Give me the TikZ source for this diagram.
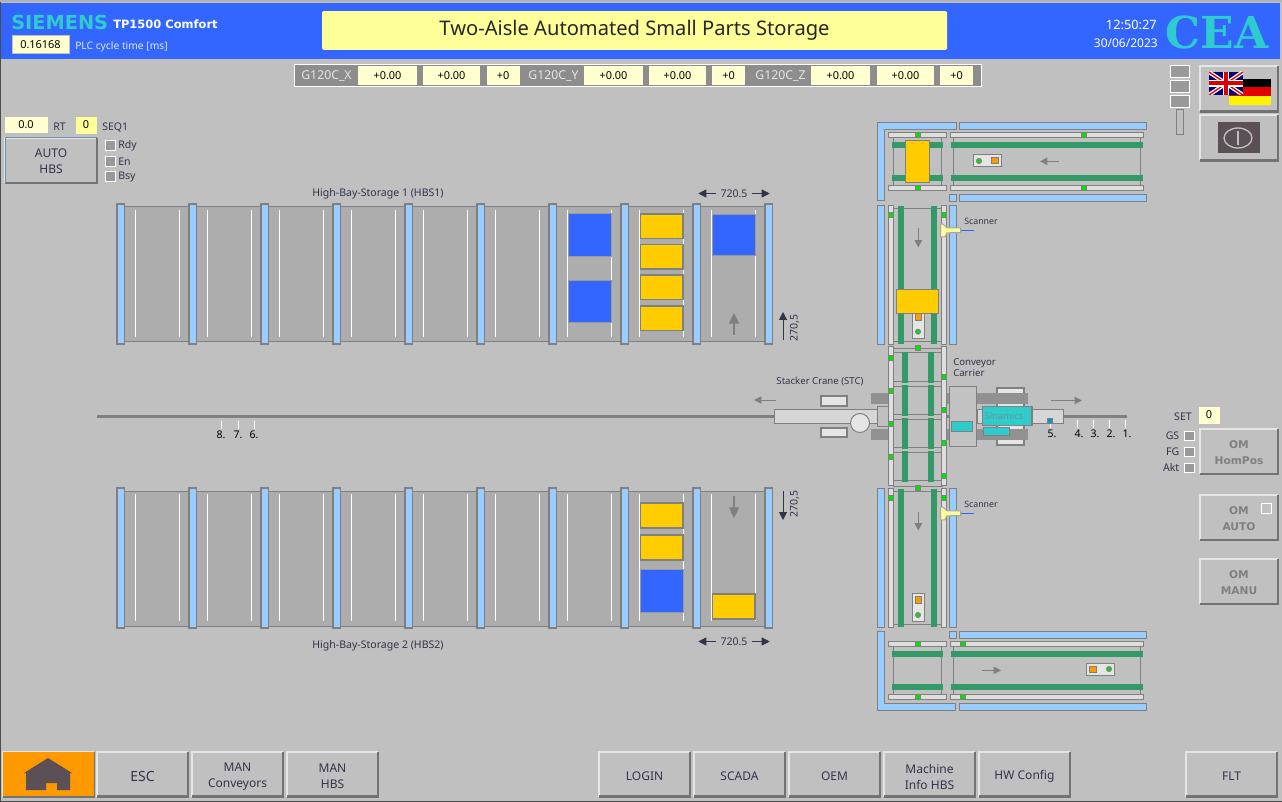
\documentclass[tikz,border=0pt]{standalone}
\usepackage{fontspec}
\setmainfont{Noto Sans}
\newfontfamily\ceafont{DejaVu Serif Bold}
\newfontfamily\heavysans{DejaVu Sans Bold}
\usetikzlibrary{arrows.meta, positioning}
\definecolor{panelgrey}{HTML}{C0C0C0}
\definecolor{headblue}{HTML}{3366FF}
\definecolor{brandteal}{HTML}{2ECCCC}
\definecolor{paleyellow}{HTML}{FFFFD0}
\definecolor{titleyellow}{HTML}{FFFF99}
\definecolor{edgegrey}{HTML}{808080}
\definecolor{barblue}{HTML}{99CCFF}
\definecolor{beltgreen}{HTML}{339966}
\definecolor{palletyellow}{HTML}{FFCC00}
\definecolor{signalorange}{HTML}{FF9900}
\definecolor{textdark}{HTML}{33334A}
\definecolor{darkmetal}{HTML}{5A5055}
\newcommand{\pxfont}[1]{\fontsize{#1}{12}\selectfont}
\tikzset{
    edged/.style={draw=edgegrey, line width=0.75pt},
    bluebar/.style={edged, line width=1pt, fill=barblue},
    railbar/.style={edged, fill=black!13},
    belt/.style={fill=beltgreen},
    sensor/.style={draw=edgegrey, line width=0.5pt, fill=green!90!black},
    carriage/.style={edged, line width=1pt, fill=black!12},
    pallety/.style={edged, line width=1pt, fill=palletyellow},
    palletb/.style={draw=black!40, line width=0.75pt, fill=headblue},
    lamp/.style={draw=white, line width=0.75pt, fill=black!40},
    slot/.style={draw=white, line width=0.75pt},
    flow/.style={edgegrey, line width=0.75pt, -{Triangle[width=5.5pt,length=5.5pt]}},
    flowbig/.style={edgegrey, line width=1.1pt, -{Triangle[width=7.5pt,length=8pt]}},
    measure/.style={textdark, line width=0.75pt, -{Triangle[width=6pt,length=6pt]}},
    textlabel/.style={inner sep=0pt, text=textdark, font=\pxfont{7.9}},
    valbox/.style={inner sep=0pt, fill=paleyellow, text=black, font=\pxfont{8.2}, draw=black!25, line width=0.5pt, minimum height=12.5pt},
    keycap/.style={align=center, text=textdark, font=\pxfont{9}, inner sep=0pt},
    keycaplow/.style={keycap, yshift=-1.2pt},
    keycapoff/.style={align=center, text=edgegrey, font=\heavysans\pxfont{8}, inner sep=0pt}
}
% raised button: name, corners, text style, caption
\newcommand{\raisedkey}[7]{
    \fill[panelgrey] (#2,#3) rectangle (#4,#5);
    \draw[black!10, line width=2pt] (#2+1,#5-1) -- (#2+1,#3+1) -- (#4-1,#3+1);
    \draw[black!55, line width=2pt] (#2+1,#5-1) -- (#4-1,#5-1) -- (#4-1,#3+1);
    \node[#6] (#1) at ({(#2+#4)/2},{(#3+#5)/2+0.7}) {#7};
}
% conveyor running sideways: rail span, frame inset, belt inset, top rail y, sensor x
\newcommand{\sideconveyor}[6]{
    \draw[edged] (#1+#3,#5) rectangle (#2-#3,#5+47.5);
    \fill[belt] (#1+#4,#5+4.3) rectangle (#2-#4,#5+10.3);
    \fill[belt] (#1+#4,#5+37.3) rectangle (#2-#4,#5+43.3);
    \draw[railbar] (#1,#5-5.5) rectangle (#2,#5);
    \draw[railbar] (#1,#5+47.5) rectangle (#2,#5+53);
    \draw[sensor] (#6-2.5,#5-5.2) rectangle ++(5,5);
    \draw[sensor] (#6-2.5,#5+47.8) rectangle ++(5,5);
}
\begin{document}
\begin{tikzpicture}[x=0.75pt, y=-0.75pt]
    \useasboundingbox (0,0) rectangle (1282,802);
    \fill[panelgrey] (0,0) rectangle (1282,802);

    % Header
    \fill[black!30] (0,0) rectangle (1282,2);
    \fill[headblue] (1,3) rectangle (1280,59);
    \draw[black!70, line width=0.75pt] (0.5,2) -- (0.5,801.5) -- (1282,801.5);
    \node[inner sep=0pt, anchor=west, text=brandteal, font=\heavysans\pxfont{14.5}] (brand) at (11,22.5) {SIEMENS};
    \node[inner sep=0pt, anchor=west, text=white, font=\heavysans\pxfont{8.6}] (model) at (113,24) {TP1500 Comfort};
    \node[valbox, minimum width=42.5pt, minimum height=13pt] (cycle) at (40.5,44.5) {0.16168};
    \node[inner sep=0pt, anchor=west, text=white!85!headblue, font=\pxfont{7.7}] (cyclelabel) at (75,47) {PLC cycle time [ms]};
    \node[fill=titleyellow, inner sep=0pt, minimum width=468.75pt, minimum height=29pt, rounded corners=1pt, font=\pxfont{15.1}, text=black!85] (title) at (634.5,30.5) {\raisebox{-2.5pt}{Two-Aisle Automated Small Parts Storage}};
    \node[inner sep=0pt, anchor=east, text=white, font=\pxfont{9.6}] (clock) at (1157,25) {12:50:27};
    \node[inner sep=0pt, anchor=east, text=white, font=\pxfont{9}] (date) at (1158,43.5) {30/06/2023};
    \node[inner sep=0pt, anchor=west, text=brandteal, font=\ceafont\pxfont{33}] (cea) at (1165.5,32) {CEA};

    % Drive values
    \fill[edgegrey!90] (294.5,64.5) rectangle (981,86.5);
    \draw[white, line width=0.75pt] (294.5,64.5) rectangle (981,86.5);
    \foreach \nm/\cx/\bw/\txt in {xa/387.5/59/+0.00, xb/451.5/57/+0.00, xc/503/33/+0, ya/613.5/59/+0.00, yb/677.5/57/+0.00, yc/728.5/33/+0, za/840.5/59/+0.00, zb/905.5/57/+0.00, zc/956.5/33/+0}
        \node[inner sep=0pt, fill=paleyellow, text=black, font=\pxfont{8.2}, minimum height=14.2pt, minimum width=\bw*0.75pt] (\nm) at (\cx,75.7) {\txt};
    \foreach \nm/\cx/\txt in {gx/326.5/G120C\_X, gy/553.5/G120C\_Y, gz/780.5/G120C\_Z}
        \node[inner sep=0pt, text=black!10, font=\pxfont{9.2}] (\nm) at (\cx,76.5) {\txt};

    % Left status block
    \node[valbox, minimum width=33pt] (rtval) at (26,125) {0.0};
    \node[textlabel, anchor=west] (rtlabel) at (53,127) {RT};
    \node[valbox, fill=titleyellow, minimum width=16.5pt, minimum height=13.5pt] (seqval) at (86,125) {0};
    \node[textlabel, anchor=west] (seqlabel) at (102,127.5) {SEQ1};
    \raisedkey{autohbs}{4}{137}{98}{184}{keycap}{AUTO\\HBS}
    \draw[barblue!70!black, line width=0.75pt] (5,183) -- (5,138) -- (97,138);
    \foreach \nm/\ty/\txt in {rdy/146/Rdy, ena/162/En, bsy/177/Bsy} {
        \draw[lamp] (105,\ty-5) rectangle ++(10,10);
        \node[textlabel, anchor=west] (\nm) at (118,\ty) {\txt};
    }

    % High-bay storage 1
    \draw[edged, fill=black!32] (123,207) rectangle (767,342);
    \foreach \x in {117,189,...,693} {
        \draw[slot] (\x+18,210) -- (\x+18,337);
        \draw[slot] (\x+62,210) -- (\x+62,337);
    }
    \foreach \x in {117,189,...,765}
        \draw[bluebar] (\x,204) rectangle ++(7.5,140);
    \draw[palletb] (568,214) rectangle (611,257);
    \draw[palletb] (568,281) rectangle (611,323);
    \draw[palletb] (712,215) rectangle (755,256);
    \foreach \ty in {214,244.5,275,306}
        \draw[pallety] (640.5,\ty) rectangle ++(42.5,24.5);
    \draw[flowbig] (734,335) -- (734,313);
    \node[textlabel] (hbsone) at (378,193.5) {High-Bay-Storage 1 (HBS1)};

    % High-bay storage 2
    \draw[edged, fill=black!32] (123,491) rectangle (767,626);
    \foreach \x in {117,189,...,693} {
        \draw[slot] (\x+18,494) -- (\x+18,621);
        \draw[slot] (\x+62,494) -- (\x+62,621);
    }
    \foreach \x in {117,189,...,765}
        \draw[bluebar] (\x,488) rectangle ++(7.5,140);
    \draw[pallety] (640.5,503) rectangle ++(42.5,25);
    \draw[pallety] (640.5,535) rectangle ++(42.5,25);
    \draw[palletb] (640.5,569) rectangle ++(42.5,43);
    \draw[pallety] (712.5,594) rectangle ++(42.5,25);
    \draw[flowbig] (734,496) -- (734,518);
    \node[textlabel] (hbstwo) at (378,645.5) {High-Bay-Storage 2 (HBS2)};

    % Dimensions
    \foreach \ty/\nm in {193.5/dimup, 641.5/dimdn} {
        \node[textlabel] (\nm) at (734,\ty) {720.5};
        \draw[measure] (\nm.west) ++(-4,0) -- ++(-18,0);
        \draw[measure] (\nm.east) ++(4,0) -- ++(18,0);
    }
    \node[textlabel, rotate=90] (hgtup) at (794.5,328) {270,5};
    \draw[measure] (783,340) -- (783,312);
    \node[textlabel, rotate=90] (hgtdn) at (794.5,504) {270,5};
    \draw[measure] (783,491) -- (783,520);

    % Rail with stations
    \draw[edgegrey, line width=2.2pt] (97,416.5) -- (1127,416.5);
    \foreach \x/\nm in {221/8, 238/7, 254/6} {
        \draw[white, line width=0.75pt] (\x,421) -- (\x,429);
        \node[textlabel, text=black] (st\nm) at (\x,435) {\nm.};
    }
    \foreach \x/\nm in {1077/4, 1093/3, 1109/2, 1125/1} {
        \draw[white, line width=0.75pt] (\x,420) -- (\x,428);
        \node[textlabel, text=black] (st\nm) at (\x+2,434) {\nm.};
    }

    % Stacker crane
    \draw[carriage, line width=0.75pt, fill=black!16] (774,409) rectangle (877,423);
    \draw[edged, line width=1.5pt, fill=black!10] (821,396) rectangle (847,406);
    \draw[edged, line width=1.5pt, fill=black!10] (821,427.5) rectangle (847,437);
    \draw[edged, fill=black!10] (860,423) circle (9.5);
    \draw[edged, fill=panelgrey] (877,406.5) rectangle (889,426.5);
    \draw[flow] (776,400) -- (754,400);
    \draw[flow] (1051,400.5) -- (1082,400.5);
    \node[textlabel, font=\pxfont{7.2}] (stc) at (820,381.5) {Stacker Crane (STC)};
    \draw[edged, line width=1.5pt, fill=black!10] (997,388) rectangle (1024,444.5);
    \fill[black!43] (871,392.5) rectangle (1027.5,403.5);
    \fill[black!43] (871,428.5) rectangle (1027.5,439.5);

    % Central conveyor
    \draw[edged, fill=panelgrey] (893,349) rectangle (942,486);
    \foreach \ty in {353,381,386,414,419,447,452,480}
        \draw[edged] (893,\ty) -- (942,\ty);
    \foreach \ty in {352,385,418,451} {
        \fill[belt] (902,\ty) rectangle (908,\ty+31);
        \fill[belt] (928,\ty) rectangle (934,\ty+31);
    }
    \draw[railbar] (888.7,347) rectangle (893.7,485.5);
    \draw[railbar] (941.7,347) rectangle (946.8,485.5);
    \foreach \ty in {358,391,424,457}
        \draw[sensor] (888.8,\ty-2.5) rectangle ++(5,5);
    \foreach \ty in {377,410,443,476}
        \draw[sensor] (941.8,\ty-2.5) rectangle ++(5,5);
    \draw[sensor] (915.5,345.3) rectangle ++(5,5);
    \draw[sensor] (915.5,485.5) rectangle ++(5,5);

    % Conveyor carrier
    \draw[edged, fill=black!16] (977,409.5) rectangle (1063.5,423.5);
    \draw[edged, line width=1pt, fill=black!24] (949.5,386.5) rectangle (976.5,446.5);
    \draw[edged, fill=brandteal] (951.5,421.5) rectangle (972.5,431.5);
    \draw[edged, line width=1pt, fill=brandteal] (982.5,406.5) rectangle (1032,425.5);
    \node[inner sep=0pt, text=edgegrey!75!brandteal, font=\pxfont{7}] (drive) at (1004,416.5) {Sinamics};
    \draw[edged, fill=brandteal] (983.5,427.5) rectangle (1009.5,435.5);
    \draw[edged, fill=cyan!80!blue] (1047.8,418.8) rectangle ++(5,5);
    \draw[white, line width=0.75pt] (1050,424) -- (1050,428);
    \node[textlabel, text=black] (st5) at (1052,434) {5.};
    \node[textlabel, anchor=west, align=left, font=\fontsize{7.2}{8.25}\selectfont] (carrier) at (953,367.5) {Conveyor\\Carrier};

    % Upper and lower vertical conveyors
    \foreach \ty/\nm in {205.5/up, 488.5/dn} {
        \draw[bluebar] (877.5,\ty) rectangle ++(7,139);
        \draw[bluebar] (949.5,\ty) rectangle ++(7,139);
        \draw[edged] (893,\ty+3) rectangle (942,\ty+136);
        \fill[belt] (898,\ty+0.5) rectangle (904,\ty+138.5);
        \fill[belt] (931,\ty+0.5) rectangle (937,\ty+138.5);
        \draw[railbar] (888.5,\ty) rectangle ++(5.2,139);
        \draw[railbar] (941.5,\ty) rectangle ++(5.2,139);
        \draw[sensor] (888.7,\ty+7) rectangle ++(5,5);
        \draw[sensor] (941.7,\ty+7) rectangle ++(5,5);
        \draw[flow] (918.3,\ty+23) -- (918.3,\ty+42);
    }
    % Scanners
    \foreach \ty/\nm in {230.3/scanup, 513.3/scandn} {
        \draw[headblue, line width=0.75pt] (961,\ty) -- (974,\ty);
        \draw[black!35, line width=0.75pt, fill=titleyellow] (940.5,\ty-6) -- (942.5,\ty-6.5) -- (947,\ty-2.5) -- (960.7,\ty-2.3) -- (960.7,\ty+2.3) -- (947,\ty+2.5) -- (945,\ty+6.5) -- (940.5,\ty+6.5) -- cycle;
        \node[textlabel, anchor=west, font=\pxfont{6.6}] (\nm) at (964,\ty-8.5) {Scanner};
    }

    % Carts on vertical conveyors
    \draw[carriage, fill=black!10] (912.5,300) rectangle (924.7,338.3);
    \draw[edged, fill=signalorange] (915.5,313.7) rectangle (921.7,320.7);
    \draw[edged, fill=green!90!black] (918,331.7) circle (2.5);
    \draw[pallety] (896.5,289.5) rectangle (938.7,313.3);
    \draw[carriage, fill=black!10] (912.5,593.5) rectangle (924.7,621.7);
    \draw[edged, fill=signalorange] (915.5,596.5) rectangle (921.7,603.7);
    \draw[edged, fill=green!90!black] (918,615) circle (2.5);

    % Top transfer section
    \draw[bluebar] (877.5,122.5) -- (956.5,122.5) -- (956.5,129.5) -- (884.5,129.5) -- (884.5,200.5) -- (877.5,200.5) -- cycle;
    \draw[bluebar] (959.5,122.5) rectangle (1146.5,129.5);
    \draw[bluebar] (949.5,194.5) rectangle (956.5,201.5);
    \draw[bluebar] (959.5,194.5) rectangle (1146.5,201.5);
    \sideconveyor{888.3}{946.7}{5}{3.7}{137.7}{917.7}
    \sideconveyor{950.3}{1143.7}{3}{1}{137.7}{1084}
    \draw[pallety] (905.5,140.5) rectangle (929.7,182.3);
    \draw[carriage, fill=black!10] (973.5,154.5) rectangle (1001.7,166.7);
    \draw[edged, fill=green!90!black] (979,161) circle (2.5);
    \draw[edged, fill=signalorange] (991.5,157.7) rectangle (998.3,163.5);
    \draw[flow] (1059,161.3) -- (1040,161.3);

    % Bottom transfer section
    \draw[bluebar] (877.5,631.5) -- (884.5,631.5) -- (884.5,703.5) -- (955.5,703.5) -- (955.5,710.5) -- (877.5,710.5) -- cycle;
    \draw[bluebar] (959.5,703.5) rectangle (1146.5,710.5);
    \draw[bluebar] (949.5,631.5) rectangle (956.5,638.5);
    \draw[bluebar] (959.5,631.5) rectangle (1146.5,638.5);
    \sideconveyor{888.3}{946.7}{5}{3.7}{646.7}{917.7}
    \sideconveyor{950.3}{1143.7}{3}{1}{646.7}{963}
    \draw[carriage, fill=black!10] (1086.5,663.5) rectangle (1114.7,675.7);
    \draw[edged, fill=signalorange] (1089.5,666.5) rectangle (1096.7,672.7);
    \draw[edged, fill=green!90!black] (1109,669) circle (2.5);
    \draw[flow] (982,670.3) -- (1001,670.3);

    % Right side panel
    \foreach \ty in {66,81,96}
        \draw[lamp] (1170.5,\ty) rectangle ++(19,12);
    \draw[edged, fill=panelgrey] (1176.5,109.5) rectangle (1183.5,135);
    \raisedkey{langkey}{1199}{65}{1279}{112.5}{keycap}{}
    \fill[black] (1228.5,79) rectangle (1270.5,87.5);
    \fill[red!90!black] (1228.5,87.5) rectangle (1270.5,96);
    \fill[yellow] (1228.5,96) rectangle (1270.5,105);
    \begin{scope}
        \clip (1209,72) rectangle (1243,95);
        \fill[blue!45!black] (1209,72) rectangle (1243,95);
        \draw[white, line width=3pt] (1209,72) -- (1243,95) (1243,72) -- (1209,95);
        \draw[red!85!black, line width=1pt] (1209,72) -- (1243,95) (1243,72) -- (1209,95);
        \draw[white, line width=5pt] (1226,72) -- (1226,95) (1209,83.5) -- (1243,83.5);
        \draw[red!85!black, line width=3pt] (1226,72) -- (1226,95) (1209,83.5) -- (1243,83.5);
    \end{scope}
    \raisedkey{powerkey}{1199}{114}{1279}{161.5}{keycap}{}
    \fill[darkmetal] (1217.5,122) rectangle (1259.5,153.5);
    \draw[black!25, line width=1pt] (1238,138) ellipse (14 and 10);
    \draw[black!25, line width=1pt] (1238,131) -- (1238,145);

    \node[textlabel, anchor=east] (setlabel) at (1192,416.5) {SET};
    \node[valbox, minimum width=16.5pt, minimum height=13.5pt] (setval) at (1209,415) {0};
    \foreach \ty/\txt/\nm in {436/GS/gs, 452/FG/fg, 468/Akt/akt} {
        \draw[lamp] (1184.5,\ty-5) rectangle ++(9.5,9.5);
        \node[textlabel, anchor=east] (\nm) at (1179.5,\ty) {\txt};
    }
    \raisedkey{omhom}{1199}{428}{1279}{475}{keycapoff}{OM\\HomPos}
    \raisedkey{omauto}{1199}{494}{1279}{541}{keycapoff}{OM\\AUTO}
    \draw[lamp, fill=none] (1261.5,503.5) rectangle ++(10,10);
    \raisedkey{ommanu}{1199}{558}{1279}{605}{keycapoff}{OM\\MANU}

    % Bottom keys
    \raisedkey{homekey}{2}{751}{95}{797.5}{keycap}{}
    \fill[signalorange] (3,752) rectangle (93.5,796);
    \fill[darkmetal] (24,773) -- (48,758) -- (72,773) -- (70,773) -- (70,790) -- (57,790) -- (57,783) -- (46,783) -- (46,790) -- (26,790) -- (26,773) -- cycle;
    \raisedkey{esc}{96}{751}{189}{797.5}{keycaplow, font=\pxfont{10.5}}{ESC}
    \foreach \nm/\xa/\xb/\txt in {manconv/191/284/{MAN\\Conveyors}, manhbs/286/379/{MAN\\HBS}, login/598/691/LOGIN, scada/693/786/SCADA, oem/788/881/OEM, info/883/976/{Machine\\Info HBS}, hwcfg/978/1071/HW Config, fltkey/1185/1278/FLT} {
        \raisedkey{\nm}{\xa}{751}{\xb}{797.5}{keycaplow}{\txt}
    }
\end{tikzpicture}
\end{document}
